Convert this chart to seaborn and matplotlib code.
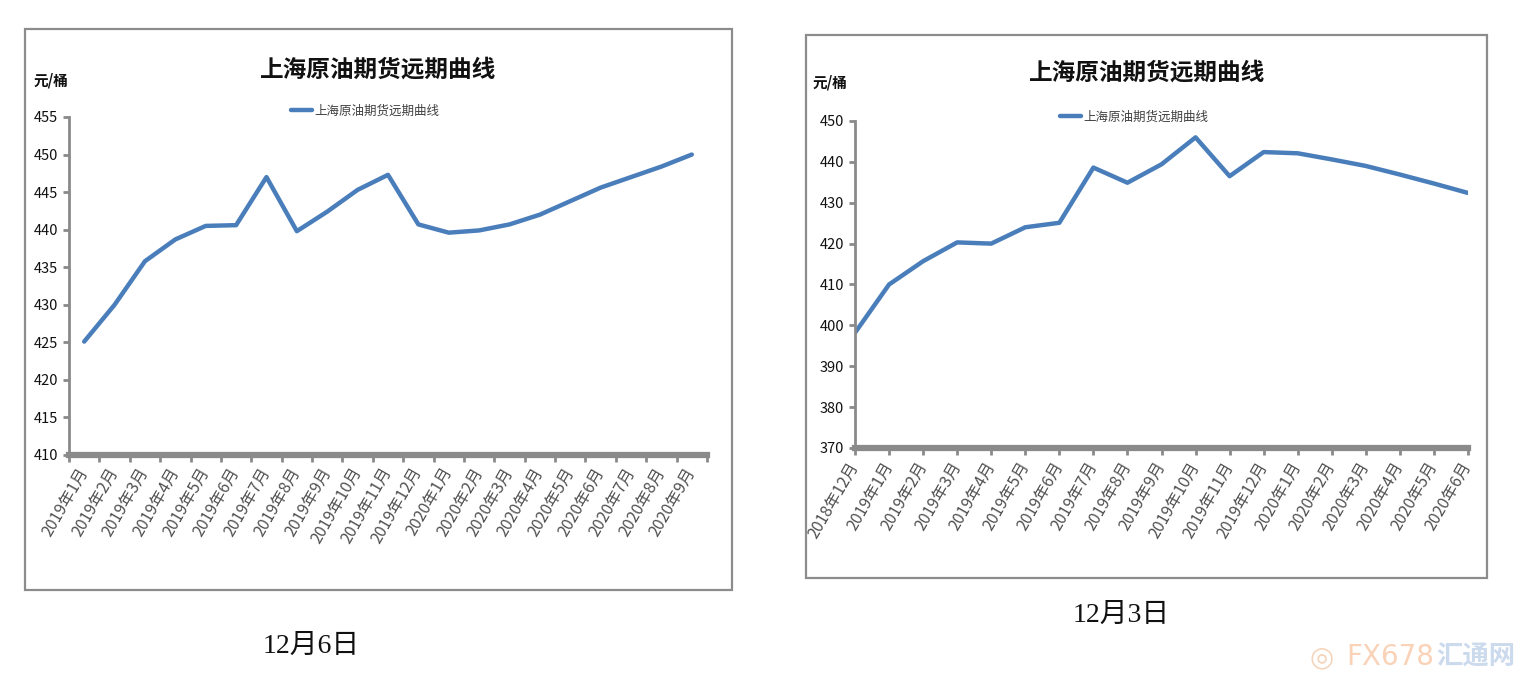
import matplotlib
matplotlib.use("Agg")
import matplotlib.pyplot as plt
from matplotlib.patches import Rectangle
import seaborn as sns
import numpy as np
import pandas as pd

# ---------------- data ----------------
left_months = ["2019年1月", "2019年2月", "2019年3月", "2019年4月", "2019年5月", "2019年6月",
               "2019年7月", "2019年8月", "2019年9月", "2019年10月", "2019年11月", "2019年12月",
               "2020年1月", "2020年2月", "2020年3月", "2020年4月", "2020年5月", "2020年6月",
               "2020年7月", "2020年8月", "2020年9月"]
left_values = [425.1, 430.0, 435.8, 438.7, 440.5, 440.6, 447.0, 439.8, 442.4, 445.3, 447.3,
               440.7, 439.6, 439.9, 440.7, 442.0, 443.8, 445.6, 447.0, 448.4, 450.0]

right_months = ["2018年12月", "2019年1月", "2019年2月", "2019年3月", "2019年4月", "2019年5月",
                "2019年6月", "2019年7月", "2019年8月", "2019年9月", "2019年10月", "2019年11月",
                "2019年12月", "2020年1月", "2020年2月", "2020年3月", "2020年4月", "2020年5月",
                "2020年6月"]
right_values = [398.2, 410.0, 415.7, 420.3, 420.0, 424.0, 425.1, 438.6, 434.9, 439.4, 446.0,
                436.5, 442.4, 442.1, 440.6, 439.0, 436.9, 434.7, 432.4]

left_yticks = [410, 415, 420, 425, 430, 435, 440, 445, 450, 455]
right_yticks = [370, 380, 390, 400, 410, 420, 430, 440, 450]

series_name = "上海原油期货远期曲线"
title_text = "上海原油期货远期曲线"
unit_text = "元/桶"
left_caption = "12月6日"
right_caption = "12月3日"

# ---------------- style ----------------
sns.set_theme(style="white")
plt.rcParams['font.family'] = ['Noto Sans CJK SC', 'DejaVu Sans']
plt.rcParams['axes.unicode_minus'] = False

W, H = 1532, 694
fig = plt.figure(figsize=(W / 100, H / 100), dpi=100)
fig.patch.set_facecolor("white")

LINE = "#4a7ebb"
AX_GRAY = "#8a8a8a"


def fx(px):
    return px / W


def fy(py):
    return 1 - py / H


# frames
fig.patches.append(Rectangle((fx(25), fy(590)), fx(732) - fx(25), fy(29) - fy(590),
                             transform=fig.transFigure, fill=False, edgecolor="#8c8c8c", lw=1.6))
fig.patches.append(Rectangle((fx(806), fy(578)), fx(1487) - fx(806), fy(35) - fy(578),
                             transform=fig.transFigure, fill=False, edgecolor="#8c8c8c", lw=1.6))

# axes
axL = fig.add_axes([fx(69), fy(455), fx(707) - fx(69), fy(117) - fy(455)])
axR = fig.add_axes([fx(855), fy(448), fx(1468) - fx(855), fy(121) - fy(448)])

dfL = pd.DataFrame({"month": left_months, "value": left_values})
dfR = pd.DataFrame({"month": right_months, "value": right_values})

sns.lineplot(data=dfL, x="month", y="value", ax=axL, color=LINE, lw=3.2,
             label=series_name, sort=False)
sns.lineplot(data=dfR, x="month", y="value", ax=axR, color=LINE, lw=3.2,
             label=series_name, sort=False)

for ax in (axL, axR):
    line = ax.get_lines()[0]
    line.set_solid_joinstyle("round")
    line.set_solid_capstyle("round")
    ax.set_xlabel("")
    ax.set_ylabel("")
    ax.set_facecolor("none")
    for s in ("top", "right"):
        ax.spines[s].set_visible(False)
    ax.spines["left"].set_color(AX_GRAY)
    ax.spines["left"].set_linewidth(2)
    ax.spines["bottom"].set_color(AX_GRAY)
    ax.spines["bottom"].set_linewidth(4.5)
    ax.grid(False)
    ax.tick_params(axis="y", which="major", direction="out", length=4, width=2,
                   color=AX_GRAY, labelsize=10.5, labelcolor="#111111", pad=4, left=True)

# Left axis: categories between tick marks
nL = len(left_months)
axL.set_xlim(-0.5, nL - 0.5)
axL.set_ylim(left_yticks[0], left_yticks[-1])
axL.set_yticks(left_yticks)
axL.set_xticks(range(nL))
axL.set_xticklabels(left_months)
axL.set_xticks(np.arange(nL + 1) - 0.5, minor=True)
axL.tick_params(axis="x", which="major", length=0, pad=10)
axL.tick_params(axis="x", which="minor", direction="out", length=5, width=2,
                color=AX_GRAY, bottom=True)

# Right axis: categories on tick marks
nR = len(right_months)
axR.set_xlim(0, nR - 1)
axR.set_ylim(right_yticks[0], right_yticks[-1])
axR.set_yticks(right_yticks)
axR.set_xticks(range(nR))
axR.set_xticklabels(right_months)
axR.tick_params(axis="x", which="major", direction="out", length=5, width=2,
                color=AX_GRAY, pad=6, bottom=True)

for ax in (axL, axR):
    for lab in ax.get_xticklabels():
        lab.set_rotation(60)
        lab.set_ha("right")
        lab.set_va("center")
        lab.set_rotation_mode("anchor")
        lab.set_fontsize(11.5)
        lab.set_color("#505050")
        lab.set_fontweight("light")
        lab.set_fontstyle("italic")

# legends
legL = axL.legend(loc="center", bbox_to_anchor=((365 - 69) / 638, (455 - 111) / 338),
                  frameon=False, handlelength=1.7, handletextpad=0.2, fontsize=9,
                  borderaxespad=0)
legR = axR.legend(loc="center", bbox_to_anchor=((1134 - 855) / 613, (448 - 117) / 327),
                  frameon=False, handlelength=1.7, handletextpad=0.2, fontsize=9,
                  borderaxespad=0)
for leg in (legL, legR):
    for t in leg.get_texts():
        t.set_color("#404040")
    for h in leg.get_lines():
        h.set_linewidth(3.2)

# titles and units
fig.text(fx(378), fy(70), title_text, ha="center", va="center", fontsize=17,
         fontweight="bold", color="#111111")
fig.text(fx(1147), fy(73), title_text, ha="center", va="center", fontsize=17,
         fontweight="bold", color="#111111")
fig.text(fx(51), fy(80), unit_text, ha="center", va="center", fontsize=10.5,
         fontweight="bold", color="#111111")
fig.text(fx(830), fy(83), unit_text, ha="center", va="center", fontsize=10.5,
         fontweight="bold", color="#111111")

# captions
cap_font = ["Liberation Serif", "Noto Sans CJK SC"]
fig.text(fx(311), fy(646), left_caption, ha="center", va="center", fontsize=20,
         family=cap_font, color="#111111")
fig.text(fx(1121), fy(615), right_caption, ha="center", va="center", fontsize=20,
         family=cap_font, color="#111111")

# watermark
fig.text(fx(1322), fy(657), "◎", ha="center", va="center", fontsize=20,
         color="#f2c9a8", alpha=0.8, family=["DejaVu Sans"])
fig.text(fx(1390), fy(657), "FX678", ha="center", va="center", fontsize=20,
         color="#f7c4a0", alpha=0.75, family=["DejaVu Sans"])
fig.text(fx(1476), fy(657), "汇通网", ha="center", va="center", fontsize=19,
         fontweight="bold", color="#c4d4ea", alpha=0.85)

fig.savefig("out.png", dpi=100, facecolor="white")
